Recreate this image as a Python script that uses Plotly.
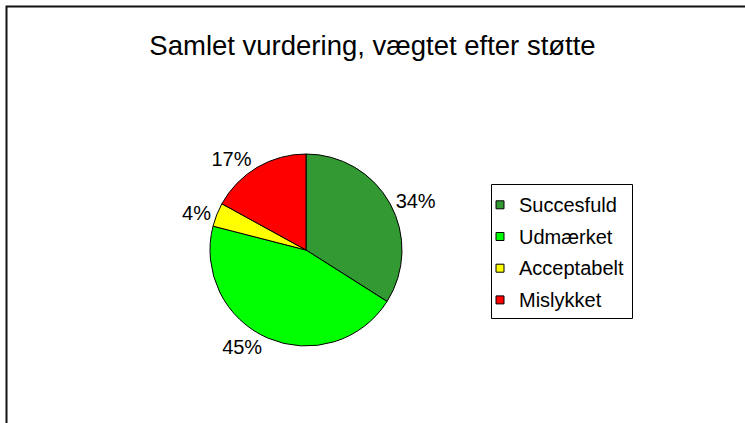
import plotly.graph_objects as go

categories = ["Succesfuld", "Udmærket", "Acceptabelt", "Mislykket"]
values = [34, 45, 4, 17]
colors = ["#339933", "#00FF00", "#FFFF00", "#FF0000"]
title_text = "Samlet vurdering, vægtet efter støtte"

W, H = 745, 423
FONT = "Liberation Sans, Arial, sans-serif"

# pie geometry (pixels)
cx, cy, r = 306, 250, 96

fig = go.Figure(go.Pie(
    labels=categories,
    values=values,
    marker=dict(colors=colors, line=dict(color="black", width=1)),
    sort=False,
    direction="clockwise",
    rotation=0,
    textinfo="percent",
    textposition="outside",
    outsidetextfont=dict(family=FONT, size=20, color="black"),
    automargin=False,
    showlegend=False,
    hoverinfo="label+percent",
    domain=dict(x=[(cx - r) / W, (cx + r) / W], y=[1 - (cy + r) / H, 1 - (cy - r) / H]),
))

shapes = [
    # outer chart frame (left and top visible, right/bottom cut off)
    dict(type="rect", xref="paper", yref="paper",
         x0=6.5 / W, x1=1.05, y0=-0.05, y1=1 - 6.5 / H,
         line=dict(color="#111111", width=2), fillcolor="rgba(0,0,0,0)", layer="above"),
    # legend box
    dict(type="rect", xref="paper", yref="paper",
         x0=491.5 / W, x1=632.5 / W, y0=1 - 318.5 / H, y1=1 - 184.5 / H,
         line=dict(color="black", width=1), fillcolor="white"),
]
annotations = []
row0, step = 204.8, 31.7
for i, (cat, col) in enumerate(zip(categories, colors)):
    yc = row0 + i * step
    shapes.append(dict(type="rect", xref="paper", yref="paper",
                       x0=496 / W, x1=504 / W, y0=1 - (yc + 4) / H, y1=1 - (yc - 4) / H,
                       line=dict(color="black", width=1), fillcolor=col))
    annotations.append(dict(xref="paper", yref="paper", x=517 / W, y=1 - yc / H,
                            xanchor="left", yanchor="middle", showarrow=False,
                            text=cat, font=dict(family=FONT, size=20, color="black")))

fig.update_layout(
    width=W, height=H,
    margin=dict(l=0, r=0, t=0, b=0),
    paper_bgcolor="white", plot_bgcolor="white",
    title=dict(text=title_text, x=0.5, xanchor="center", y=1 - 45 / H, yanchor="middle",
               font=dict(family=FONT, size=27.5, color="black")),
    shapes=shapes,
    annotations=annotations,
)

fig.write_html("out.html", config={"displayModeBar": False},
               post_script="document.body.style.margin='0';")
